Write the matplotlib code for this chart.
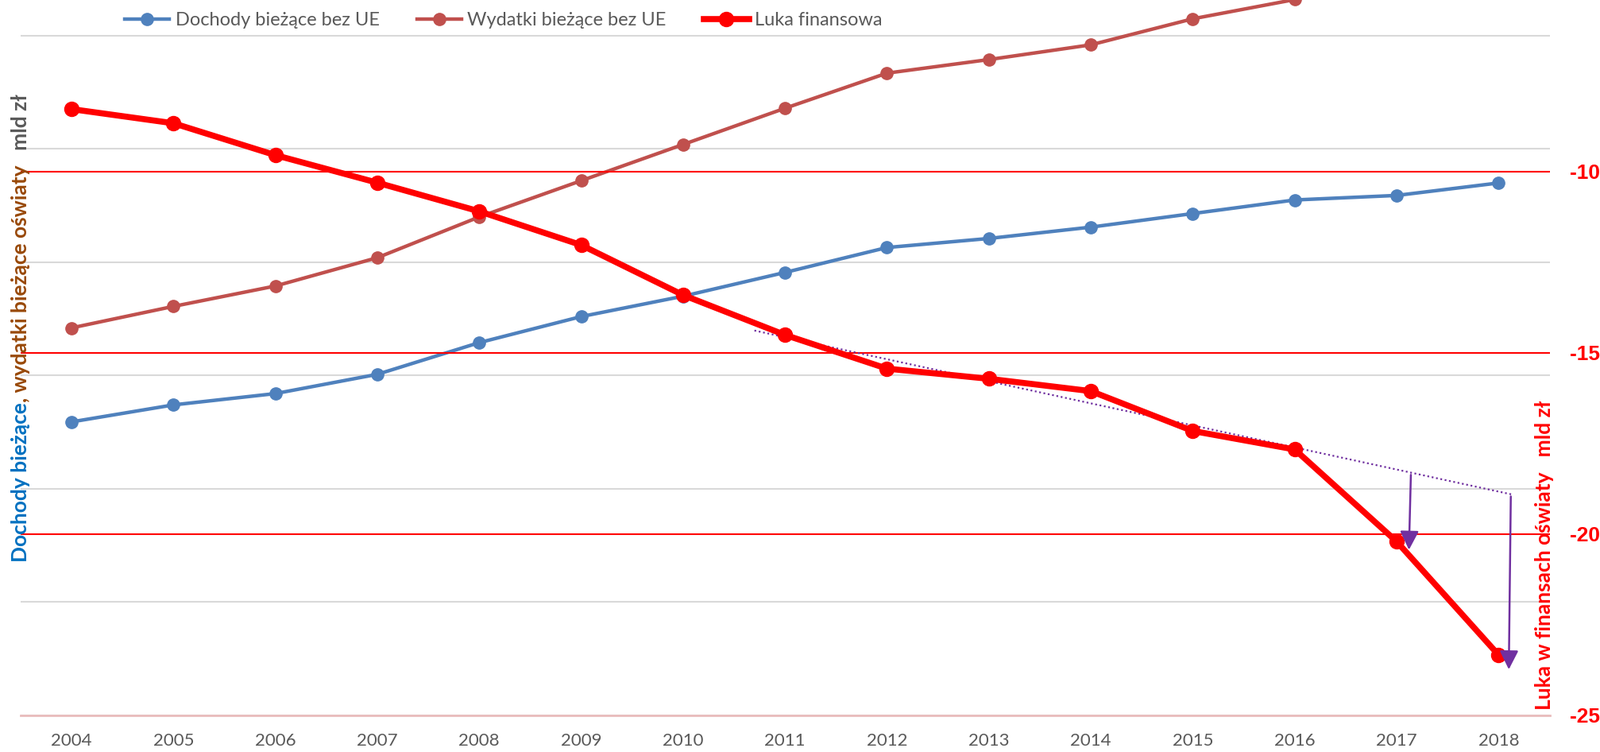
""" Dochody i wydatki bieżące oświaty oraz luka finansowa, 2004-2018 """

import numpy as np
import matplotlib
matplotlib.use('Agg')
import matplotlib.pyplot as plt

# Data [mld zł]
years = np.arange(2004, 2019)
dochody = [25.9, 27.4, 28.4, 30.1, 32.9, 35.2, 37.0, 39.1, 41.3, 42.1, 43.1, 44.3, 45.5, 45.9, 47.0]
wydatki = [34.2, 36.1, 37.9, 40.4, 44.0, 47.2, 50.4, 53.6, 56.7, 57.9, 59.2, 61.5, 63.2, 66.1, 70.3]
luka = [-8.28, -8.67, -9.55, -10.31, -11.10, -12.03, -13.41, -14.51, -15.44, -15.72,
        -16.06, -17.16, -17.67, -20.21, -23.34]

series_names = ['Dochody bieżące bez UE', 'Wydatki bieżące bez UE', 'Luka finansowa']
right_ticks = [-25, -20, -15, -10]
left_ticks = [0, 10, 20, 30, 40, 50, 60]

# linear trend of the gap over 2011-2016, drawn from 2010.7 to 2018.13
trend_from, trend_to = 2011, 2016
trend_span = (2010.7, 2018.13)
arrow_x = [2017.14, 2018.12]
arrow_tips = [-20.5, -23.8]

BLUE = '#4F81BD'
BROWN = '#C0504D'
RED = '#FF0000'
PURPLE = '#7030A0'
GRID = '#D9D9D9'
TEXT = '#595959'

plt.rcParams['font.family'] = ['Lato', 'DejaVu Sans']
plt.rcParams['axes.unicode_minus'] = False

fig = plt.figure(figsize=(20.15, 9.46), dpi=100)
ax = fig.add_axes([0.0128, 0.049, 0.9552, 0.951])
ax2 = ax.twinx()

# Left axis: revenues and expenditures
l1, = ax.plot(years, dochody, color=BLUE, lw=3.2, marker='o', ms=11, label=series_names[0])
l2, = ax.plot(years, wydatki, color=BROWN, lw=3.2, marker='o', ms=11, label=series_names[1])
ax.set_xlim(2003.5, 2018.5)
ax.set_ylim(0, 63.16)
ax.set_yticks(left_ticks)
ax.yaxis.grid(True, color=GRID, lw=1.5)
ax.set_axisbelow(True)
ax.tick_params(axis='y', left=False, labelleft=False)
ax.set_xticks(years)
ax.tick_params(axis='x', length=0, pad=16, labelsize=16, labelcolor=TEXT)
for s in ['left', 'right', 'top']:
    ax.spines[s].set_visible(False)
    ax2.spines[s].set_visible(False)
ax.spines['bottom'].set_color('#E9BCBC')
ax.spines['bottom'].set_linewidth(2)
ax2.spines['bottom'].set_visible(False)

# Right axis: financial gap
l3, = ax2.plot(years, luka, color=RED, lw=5.5, marker='o', ms=13, label=series_names[2], zorder=4)
ax2.set_ylim(-25, -5.27)
ax2.set_yticks(right_ticks, labels=[str(v) for v in right_ticks])
for lab in ax2.get_yticklabels():
    lab.set_family(['Liberation Sans', 'DejaVu Sans'])
    lab.set_fontweight('bold')
    lab.set_fontsize(19)
    lab.set_color(RED)
ax2.yaxis.grid(True, color=RED, lw=1.5, zorder=1)
ax2.get_ygridlines()[0].set_visible(False)
ax2.tick_params(axis='y', right=False, pad=15)

# Trend line and arrows
yr = np.array(years)
sel = (yr >= trend_from) & (yr <= trend_to)
coef = np.polyfit(yr[sel], np.array(luka)[sel], 1)
tx = np.linspace(*trend_span, 50)
ax2.plot(tx, np.polyval(coef, tx), color=PURPLE, lw=1.6, ls=(0, (1, 1.5)), zorder=3)
for xa, tip in zip(arrow_x, arrow_tips):
    ax2.annotate('', xy=(xa - 0.02, tip), xytext=(xa, np.polyval(coef, xa)),
                 arrowprops=dict(arrowstyle='-|>', color=PURPLE, lw=1.8, mutation_scale=36),
                 zorder=5)

# Legend
leg = ax2.legend(handles=[l1, l2, l3], loc='upper left', bbox_to_anchor=(0.057, 1.007),
                 ncol=3, frameon=False, fontsize=17, handlelength=2.4, handletextpad=0.3,
                 columnspacing=2.0)
for t in leg.get_texts():
    t.set_color(TEXT)

# Axis titles (left one in three colours)
fig.canvas.draw()
r = fig.canvas.get_renderer()
y = 0.2526
for txt, col in [('Dochody bieżące', '#0070C0'), (', wydatki bieżące oświaty', '#984807'),
                 ('   mld zł', TEXT)]:
    t = fig.text(0.0128, y, txt, rotation=90, rotation_mode='anchor', ha='left', va='center',
                 color=col, fontsize=19, fontweight='bold')
    y = t.get_window_extent(r).y1 / fig.bbox.height

fig.text(0.965, 0.056, 'Luka w finansach oświaty   mld zł', rotation=90, rotation_mode='anchor',
         ha='left', va='center', color=RED, fontsize=19, fontweight='bold')

fig.savefig('out.png', dpi=100)
